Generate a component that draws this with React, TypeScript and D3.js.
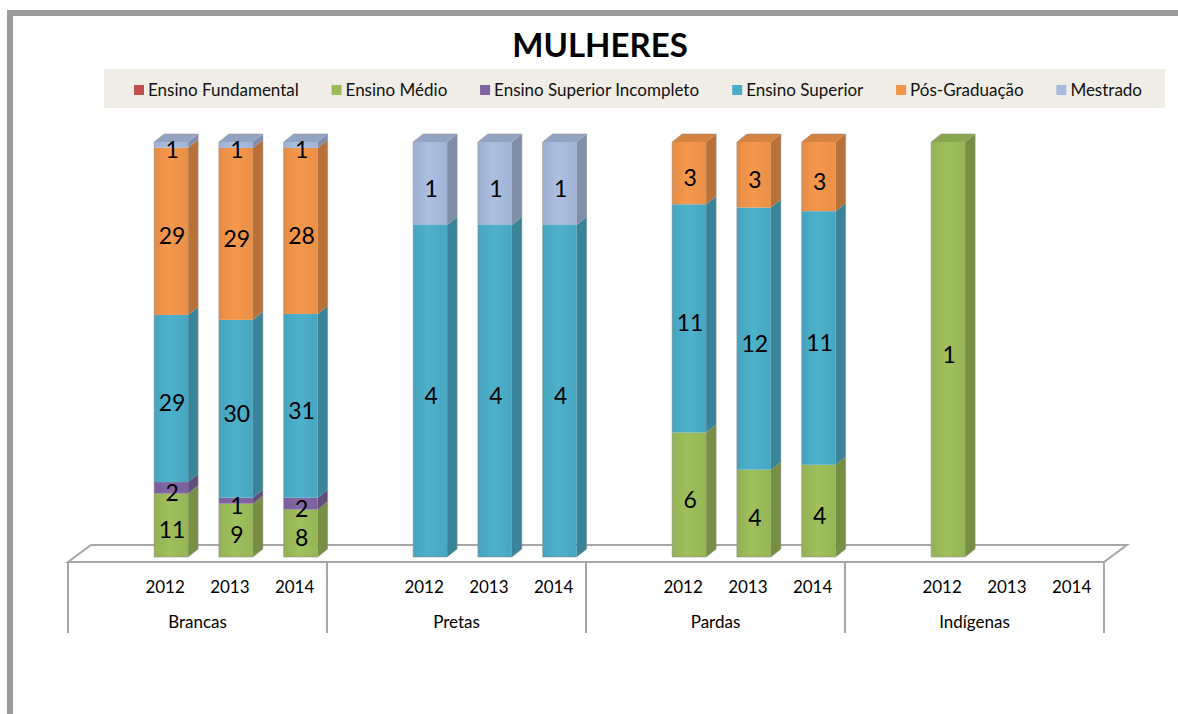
import * as d3 from 'd3';

// categories
const groups = ['Brancas', 'Pretas', 'Pardas', 'Indígenas'];
const years = ['2012', '2013', '2014'];

// series, one value per group/year (Brancas 2012..2014, Pretas ..., Pardas ..., Indígenas ...)
const seriesNames = [
  'Ensino Fundamental',
  'Ensino Médio',
  'Ensino Superior Incompleto',
  'Ensino Superior',
  'Pós-Graduação',
  'Mestrado',
];
const seriesColors = ['#c0504d', '#9bbb59', '#8064a2', '#4bacc6', '#f0944a', '#a7b9dc'];

const ensinoFundamental = [0, 0, 0, 0, 0, 0, 0, 0, 0, 0, 0, 0];
const ensinoMedio = [11, 9, 8, 0, 0, 0, 6, 4, 4, 1, 0, 0];
const ensinoSuperiorIncompleto = [2, 1, 2, 0, 0, 0, 0, 0, 0, 0, 0, 0];
const ensinoSuperior = [29, 30, 31, 4, 4, 4, 11, 12, 11, 0, 0, 0];
const posGraduacao = [29, 29, 28, 0, 0, 0, 3, 3, 3, 0, 0, 0];
const mestrado = [1, 1, 1, 1, 1, 1, 0, 0, 0, 0, 0, 0];

const seriesValues = [
  ensinoFundamental,
  ensinoMedio,
  ensinoSuperiorIncompleto,
  ensinoSuperior,
  posGraduacao,
  mestrado,
];

const width = 1178;
const height = 714;
const FONT = 'Lato, "Open Sans", sans-serif';

// layout
const plotLeft = 68;
const plotRight = 1104;
const floorY = 562;
const floorDepth = { dx: 23, dy: 17 };
const barShift = { dx: 6, dy: 5 };
const barW = 34;
const barDepth = { dx: 10, dy: 8 };
const barTopY = 142;
const legendBox = { x: 104, y: 69, w: 1061, h: 39, padL: 30, padR: 23 };

let measureCtx: CanvasRenderingContext2D | null = null;
function textWidth(text: string, font: string) {
  if (!measureCtx) measureCtx = document.createElement('canvas').getContext('2d');
  if (!measureCtx) return text.length * 8;
  measureCtx.font = font;
  return measureCtx.measureText(text).width;
}

export default function App() {
  const rows = groups.flatMap((g, gi) =>
    years.map((yr, yi) => ({
      key: `${g}-${yr}`,
      group: g,
      year: yr,
      values: seriesValues.map((s) => s[gi * 3 + yi]),
    }))
  );

  const stacked = d3
    .stack<any, number>()
    .keys(d3.range(seriesNames.length))
    .value((d, k) => d.values[k])
    .offset(d3.stackOffsetExpand)(rows);

  // each group has an empty slot before its three years
  const slots = groups.flatMap((g) => [`${g}-`, ...years.map((yr) => `${g}-${yr}`)]);
  const x = d3.scaleBand().domain(slots).range([plotLeft, plotRight]);
  const y = d3.scaleLinear().domain([0, 1]).range([floorY - barShift.dy, barTopY]);
  const groupX = d3.scaleBand().domain(groups).range([plotLeft, plotRight]);

  const slotCenter = (key: string) => (x(key) ?? 0) + x.bandwidth() / 2;

  // legend layout
  const legendFontSize = 17;
  const legendFont = `${legendFontSize}px ${FONT}`;
  const itemWidths = seriesNames.map((n) => 14 + textWidth(n, legendFont));
  const innerW = legendBox.w - legendBox.padL - legendBox.padR;
  const gap = (innerW - d3.sum(itemWidths)) / (seriesNames.length - 1);
  let cursor = legendBox.x + legendBox.padL;
  const legendItems = seriesNames.map((n, i) => {
    const item = { name: n, color: seriesColors[i], x: cursor };
    cursor += itemWidths[i] + gap;
    return item;
  });

  const bars = rows.map((r, ri) => {
    const left = slotCenter(r.key) - barW / 2 + barShift.dx;
    const right = left + barW;
    const segs = stacked
      .map((layer, k) => ({ k, y0: y(layer[ri][0]), y1: y(layer[ri][1]), v: r.values[k] }))
      .filter((s) => s.v > 0 && Number.isFinite(s.y0) && Number.isFinite(s.y1));
    return { ...r, left, right, segs };
  });

  const fl = floorDepth;
  const floorPath = `M${plotLeft},${floorY} L${plotRight},${floorY} L${plotRight + fl.dx},${floorY - fl.dy} L${plotLeft + fl.dx},${floorY - fl.dy} Z`;

  return (
    <svg
      width={width}
      height={height}
      style={{ position: 'absolute', left: 0, top: 0, display: 'block', background: '#fff' }}
      fontFamily={FONT}
    >
      <defs>
        {seriesColors.map((c, i) => (
          <linearGradient key={i} id={`front-${i}`} x1="0" x2="1" y1="0" y2="0">
            <stop offset="0%" stopColor={d3.color(c)!.darker(0.15).formatHex()} />
            <stop offset="45%" stopColor={d3.color(c)!.brighter(0.08).formatHex()} />
            <stop offset="100%" stopColor={d3.color(c)!.darker(0.1).formatHex()} />
          </linearGradient>
        ))}
      </defs>

      {/* outer frame */}
      <rect x={10} y={13} width={1200} height={800} fill="none" stroke="#9b9b9b" strokeWidth={6} />

      {/* title */}
      <text x={600} y={57} textAnchor="middle" fontSize={33} fontWeight="bold" fill="#000">
        MULHERES
      </text>

      {/* legend */}
      <rect x={legendBox.x} y={legendBox.y} width={legendBox.w} height={legendBox.h} fill="#f0ede6" />
      {legendItems.map((it) => (
        <g key={it.name}>
          <rect x={it.x} y={85} width={10} height={10} fill={it.color} />
          <text x={it.x + 14} y={96} fontSize={legendFontSize} fill="#111">
            {it.name}
          </text>
        </g>
      ))}

      {/* floor */}
      <path d={floorPath} fill="#fff" stroke="#a6a6a6" strokeWidth={2} />

      {/* group dividers */}
      {d3.range(groups.length + 1).map((i) => {
        const xx = plotLeft + i * groupX.bandwidth();
        return <line key={i} x1={xx} x2={xx} y1={floorY} y2={633} stroke="#a6a6a6" strokeWidth={2} />;
      })}

      {/* bars */}
      {bars.map((b) => (
        <g key={b.key}>
          {b.segs.map((s, si) => {
            const c = d3.color(seriesColors[s.k])!;
            const isTop = si === b.segs.length - 1;
            const bd = barDepth;
            return (
              <g key={s.k}>
                <rect
                  x={b.left}
                  y={s.y1}
                  width={barW}
                  height={s.y0 - s.y1}
                  fill={`url(#front-${s.k})`}
                />
                <path
                  d={`M${b.right},${s.y1} L${b.right + bd.dx},${s.y1 - bd.dy} L${b.right + bd.dx},${s.y0 - bd.dy} L${b.right},${s.y0} Z`}
                  fill={c.darker(0.75).formatHex()}
                />
                {isTop && (
                  <path
                    d={`M${b.left},${s.y1} L${b.left + bd.dx},${s.y1 - bd.dy} L${b.right + bd.dx},${s.y1 - bd.dy} L${b.right},${s.y1} Z`}
                    fill={c.darker(0.35).formatHex()}
                  />
                )}
              </g>
            );
          })}
          {b.segs.length > 0 && (
            <path
              d={`M${b.left},${b.segs[0].y0} L${b.left},${b.segs[b.segs.length - 1].y1} L${b.left + barDepth.dx},${b.segs[b.segs.length - 1].y1 - barDepth.dy} L${b.right + barDepth.dx},${b.segs[b.segs.length - 1].y1 - barDepth.dy} L${b.right + barDepth.dx},${b.segs[0].y0 - barDepth.dy} L${b.right},${b.segs[0].y0} Z`}
              fill="none"
              stroke="#8c8c8c"
              strokeOpacity={0.5}
              strokeWidth={1}
            />
          )}
        </g>
      ))}

      {/* data labels */}
      {bars.map((b) =>
        b.segs.map((s) => (
          <text
            key={`${b.key}-${s.k}`}
            x={b.left + barW / 2 + 1}
            y={(s.y0 + s.y1) / 2 + 4}
            textAnchor="middle"
            dominantBaseline="central"
            fontSize={23}
            fill="#000"
          >
            {s.v}
          </text>
        ))
      )}

      {/* year labels */}
      {rows.map((r) => (
        <text key={r.key} x={slotCenter(r.key)} y={593} textAnchor="middle" fontSize={17} fill="#000">
          {r.year}
        </text>
      ))}

      {/* group labels */}
      {groups.map((g) => (
        <text
          key={g}
          x={(groupX(g) ?? 0) + groupX.bandwidth() / 2}
          y={628}
          textAnchor="middle"
          fontSize={17}
          fill="#000"
        >
          {g}
        </text>
      ))}
    </svg>
  );
}
